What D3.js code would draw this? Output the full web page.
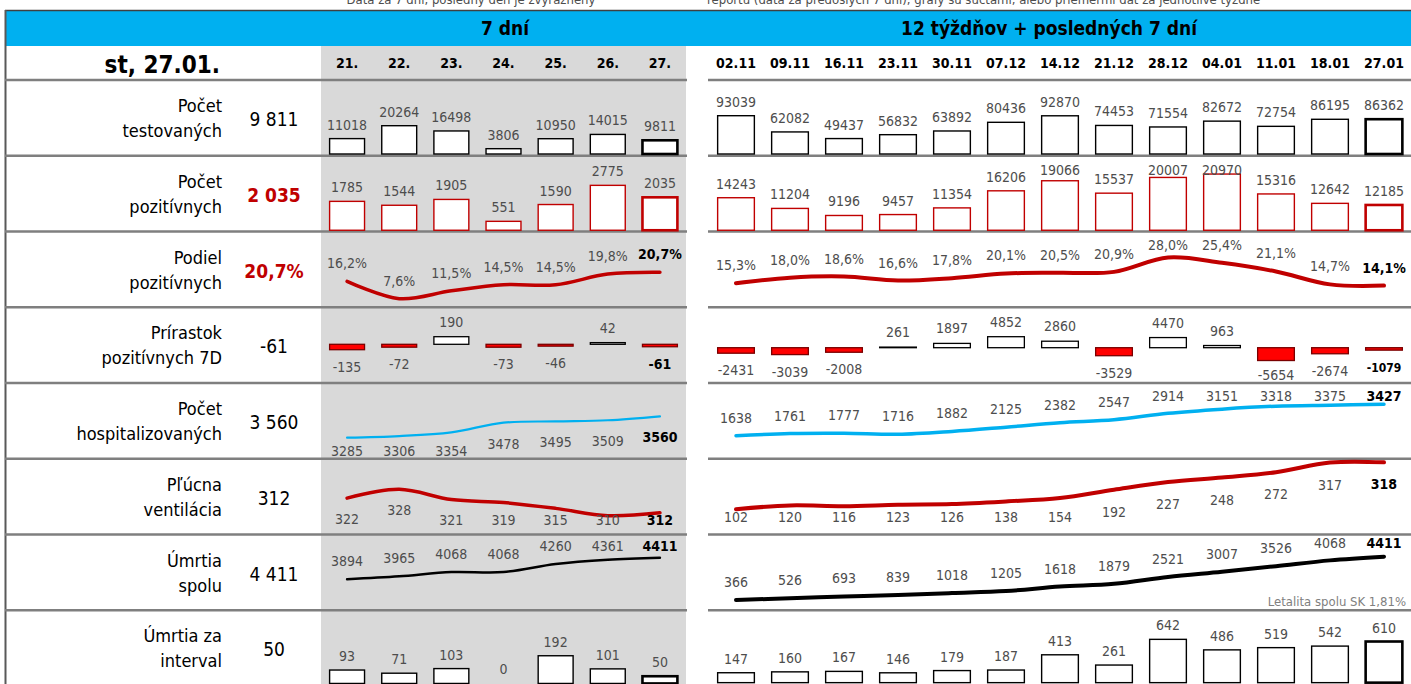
<!DOCTYPE html>
<html lang="sk">
  <head>
    <meta charset="UTF-8">
    <title>COVID SK - prehľad 27.01.</title>
    <script src="https://d3js.org/d3.v7.min.js"></script>
    <style>
      body { margin: 0; background: #fff; }
      svg text { font-family: "DejaVu Sans Condensed", "DejaVu Sans", sans-serif; }
    </style>
  </head>
  <body>
    <svg id="chart" width="1411" height="684"></svg>

  <script>
    // ---- data ----
    var days  = ["21.", "22.", "23.", "24.", "25.", "26.", "27."];
    var weeks = ["02.11", "09.11", "16.11", "23.11", "30.11", "07.12", "14.12",
                 "21.12", "28.12", "04.01", "11.01", "18.01", "27.01"];

    var rowLabels = [["Počet", "testovaných"], ["Počet", "pozitívnych"], ["Podiel", "pozitívnych"],
                     ["Prírastok", "pozitívnych 7D"], ["Počet", "hospitalizovaných"],
                     ["Pľúcna", "ventilácia"], ["Úmrtia", "spolu"], ["Úmrtia za", "interval"]];
    var rowValues = ["9 811", "2 035", "20,7%", "-61", "3 560", "312", "4 411", "50"];

    var tested7   = [11018, 20264, 16498, 3806, 10950, 14015, 9811];
    var testedW   = [93039, 62082, 49437, 56832, 63892, 80436, 92870, 74453, 71554, 82672, 72754, 86195, 86362];
    var positive7 = [1785, 1544, 1905, 551, 1590, 2775, 2035];
    var positiveW = [14243, 11204, 9196, 9457, 11354, 16206, 19066, 15537, 20007, 20970, 15316, 12642, 12185];
    var share7    = [16.2, 7.6, 11.5, 14.5, 14.5, 19.8, 20.7];
    var shareW    = [15.3, 18.0, 18.6, 16.6, 17.8, 20.1, 20.5, 20.9, 28.0, 25.4, 21.1, 14.7, 14.1];
    var growth7   = [-135, -72, 190, -73, -46, 42, -61];
    var growthW   = [-2431, -3039, -2008, 261, 1897, 4852, 2860, -3529, 4470, 963, -5654, -2674, -1079];
    var hosp7     = [3285, 3306, 3354, 3478, 3495, 3509, 3560];
    var hospW     = [1638, 1761, 1777, 1716, 1882, 2125, 2382, 2547, 2914, 3151, 3318, 3375, 3427];
    var vent7     = [322, 328, 321, 319, 315, 310, 312];
    var ventW     = [102, 120, 116, 123, 126, 138, 154, 192, 227, 248, 272, 317, 318];
    var deaths7   = [3894, 3965, 4068, 4068, 4260, 4361, 4411];
    var deathsW   = [366, 526, 693, 839, 1018, 1205, 1618, 1879, 2521, 3007, 3526, 4068, 4411];
    var interval7 = [93, 71, 103, 0, 192, 101, 50];
    var intervalW = [147, 160, 167, 146, 179, 187, 413, 261, 642, 486, 519, 542, 610];

    var RED = "#c00000", BLUE = "#00b0f0", GREY_TXT = "#4d4d4d";

    var svg = d3.select("#chart");

    // rows and columns
    var rowY  = d3.scaleBand().domain(d3.range(8)).range([80, 686]);
    var xDay  = d3.scaleBand().domain(days).range([321, 686]).paddingInner(0.33).paddingOuter(0.165);
    var xWeek = d3.scaleBand().domain(weeks).range([709, 1411]).paddingInner(0.32).paddingOuter(0.16);

    var pct = function(v) { return d3.format(".1f")(v).replace(".", ",") + "%"; };
    var num = function(v) { return String(v); };

    // per row: what each panel draws, scale ranges are relative to the row top
    var rows = [
      { day:  { kind: "bar", data: tested7, domain: [0, 20264], range: [74, 45.7], stroke: "#000" },
        week: { kind: "bar", data: testedW, domain: [20000, 93039], range: [74, 35.7], stroke: "#000" } },
      { day:  { kind: "bar", data: positive7, domain: [0, 2775], range: [74.5, 29.6], stroke: RED },
        week: { kind: "bar", data: positiveW, domain: [5000, 20970], range: [74.5, 18.3], stroke: RED } },
      { day:  { kind: "line", data: share7, domain: [0, 20], range: [82.5, 42.2], color: RED, width: 3.5,
                fmt: pct, off: -13, min: 18 },
        week: { kind: "line", data: shareW, domain: [0, 20], range: [82.5, 42.2], color: RED, width: 4,
                fmt: pct, off: -13, min: 18 } },
      { day:  { kind: "diff", data: growth7, domain: [0, 190], range: [37.05, 29.45] },
        week: { kind: "diff", data: growthW, domain: [0, 4852], range: [40.45, 29.45] } },
      { day:  { kind: "line", data: hosp7, domain: [3285, 3560], range: [54.7, 33.3], color: BLUE, width: 2.2,
                off: 26, max: 73 },
        week: { kind: "line", data: hospW, domain: [1638, 3427], range: [52.7, 21.3], color: BLUE, width: 3.5,
                off: -13, min: 18 } },
      { day:  { kind: "line", data: vent7, domain: [310, 328], range: [56.95, 30.55], color: RED, width: 3.5,
                off: 26, max: 66 },
        week: { kind: "line", data: ventW, domain: [102, 318], range: [50.55, 3.55], color: RED, width: 4,
                off: 27, max: 63 } },
      { day:  { kind: "line", data: deaths7, domain: [3894, 4411], range: [44.8, 23.2], color: "#000", width: 2.5,
                off: -13, min: 16.5 },
        week: { kind: "line", data: deathsW, domain: [366, 4411], range: [65.5, 22.2], color: "#000", width: 4,
                off: -13, min: 13.5 } },
      { day:  { kind: "bar", data: interval7, domain: [0, 192], range: [73.2, 45.5], stroke: "#000" },
        week: { kind: "bar", data: intervalW, domain: [0, 642], range: [72.4, 29.1], stroke: "#000" } }
    ];

    // cut-off note line at the very top (the report is cropped there)
    svg.append("text").attr("x", 471).attr("y", 4).attr("text-anchor", "middle")
      .attr("font-size", "13px").attr("fill", GREY_TXT)
      .text("Dáta za 7 dní, posledný deň je zvýraznený");
    svg.append("text").attr("x", 707).attr("y", 4)
      .attr("font-size", "13px").attr("fill", GREY_TXT)
      .text("reportu (dáta za predošlých 7 dní), grafy sú súčtami, alebo priemermi dát za jednotlivé týždne");

    // blue title band
    svg.append("rect").attr("x", 5).attr("y", 10).attr("width", 1406).attr("height", 36).attr("fill", BLUE);
    svg.append("line").attr("x1", 5).attr("x2", 1411).attr("y1", 10.5).attr("y2", 10.5)
      .attr("stroke", "#404040").attr("stroke-width", 1.5);
    svg.append("text").attr("x", 505).attr("y", 35).attr("text-anchor", "middle")
      .attr("font-size", "19px").attr("font-weight", "bold").text("7 dní");
    svg.append("text").attr("x", 1049).attr("y", 35).attr("text-anchor", "middle")
      .attr("font-size", "19px").attr("font-weight", "bold").text("12 týždňov + posledných 7 dní");

    // grey background of the 7 day block
    svg.append("rect").attr("x", 321).attr("y", 46).attr("width", 365).attr("height", 640).attr("fill", "#d9d9d9");

    // left border
    svg.append("line").attr("x1", 5.5).attr("x2", 5.5).attr("y1", 10).attr("y2", 684)
      .attr("stroke", "#595959").attr("stroke-width", 2);

    // row separators
    svg.append("g").selectAll("line").data(d3.range(8)).enter().append("line")
      .attr("x1", 5).attr("x2", 687)
      .attr("y1", function(i) { return rowY(i); }).attr("y2", function(i) { return rowY(i); })
      .attr("stroke", "#7f7f7f").attr("stroke-width", 2.5);
    svg.append("g").selectAll("line").data(d3.range(8)).enter().append("line")
      .attr("x1", 708).attr("x2", 1411)
      .attr("y1", function(i) { return rowY(i); }).attr("y2", function(i) { return rowY(i); })
      .attr("stroke", "#7f7f7f").attr("stroke-width", 2.5);

    // header row
    svg.append("text").attr("x", 220).attr("y", 73).attr("text-anchor", "end")
      .attr("font-size", "24px").attr("font-weight", "bold").text("st, 27.01.");
    svg.append("g").selectAll("text").data(days).enter().append("text")
      .attr("x", function(d) { return xDay(d) + xDay.bandwidth() / 2; }).attr("y", 68)
      .attr("text-anchor", "middle").attr("font-size", "14px").attr("font-weight", "bold")
      .text(function(d) { return d; });
    svg.append("g").selectAll("text").data(weeks).enter().append("text")
      .attr("x", function(d) { return xWeek(d) + xWeek.bandwidth() / 2; }).attr("y", 68)
      .attr("text-anchor", "middle").attr("font-size", "14px").attr("font-weight", "bold")
      .text(function(d) { return d; });

    // left labels and current values
    rowLabels.forEach(function(lab, i) {
      var top = rowY(i);
      var t = svg.append("text").attr("text-anchor", "end").attr("font-size", "18px");
      t.append("tspan").attr("x", 222).attr("y", top + 32).text(lab[0]);
      t.append("tspan").attr("x", 222).attr("y", top + 57).text(lab[1]);
      var hot = (i == 1 || i == 2);
      svg.append("text").attr("x", 274).attr("y", top + 46).attr("text-anchor", "middle")
        .attr("font-size", "19px")
        .attr("font-weight", hot ? "bold" : "normal")
        .attr("fill", hot ? RED : "#000")
        .text(rowValues[i]);
    });

    // value labels; the last point is emphasised only on line and diff rows
    function valueLabels(g, x, spec, ypos, fmt, boldLast) {
      var keys = x.domain(), last = spec.data.length - 1;
      g.selectAll(null).data(spec.data).enter().append("text")
        .attr("x", function(d, i) { return x(keys[i]) + x.bandwidth() / 2; })
        .attr("y", ypos)
        .attr("text-anchor", "middle")
        .attr("font-size", function(d, i) { return boldLast && i == last && Math.abs(d) >= 1000 && d < 0 ? "12px" : "14px"; })
        .attr("font-weight", function(d, i) { return boldLast && i == last ? "bold" : "normal"; })
        .attr("fill", function(d, i) { return boldLast && i == last ? "#000" : GREY_TXT; })
        .text(function(d) { return (fmt || num)(d); });
    }

    function drawPanel(spec, x, top) {
      var g = svg.append("g");
      var keys = x.domain(), last = spec.data.length - 1;
      var y = d3.scaleLinear().domain(spec.domain).range([top + spec.range[0], top + spec.range[1]]);
      var cx = function(d, i) { return x(keys[i]) + x.bandwidth() / 2; };

      if (spec.kind == "bar") {
        g.selectAll("rect").data(spec.data).enter().append("rect")
          .attr("x", function(d, i) { return x(keys[i]); })
          .attr("y", function(d) { return y(d); })
          .attr("width", x.bandwidth())
          .attr("height", function(d) { return y(spec.domain[0]) - y(d); })
          .attr("fill", "#fff")
          .attr("stroke", spec.stroke)
          .attr("stroke-width", function(d, i) { return i == last ? 2.6 : 1.4; });
        valueLabels(g, x, spec, function(d) { return Math.max(y(d) - 9, top + 19); }, num, false);
      }

      if (spec.kind == "diff") {
        var y0 = y(0);
        g.selectAll("rect").data(spec.data).enter().append("rect")
          .attr("x", function(d, i) { return x(keys[i]); })
          .attr("y", function(d) { return Math.min(y(d), y0); })
          .attr("width", x.bandwidth())
          .attr("height", function(d) { return Math.abs(y(d) - y0); })
          .attr("fill", function(d) { return d < 0 ? "#ff0000" : "#fff"; })
          .attr("stroke", function(d) { return d < 0 ? "#7a0000" : "#000"; })
          .attr("stroke-width", 1.3);
        valueLabels(g, x, spec, function(d) {
          return d < 0 ? Math.min(y(d) + 22, top + 73) : y(d) - 10;
        }, num, true);
      }

      if (spec.kind == "line") {
        var line = d3.line().x(cx).y(function(d) { return y(d); }).curve(d3.curveCatmullRom.alpha(0.5));
        g.append("path").datum(spec.data).attr("d", line)
          .attr("fill", "none").attr("stroke", spec.color)
          .attr("stroke-width", spec.width).attr("stroke-linecap", "round");
        valueLabels(g, x, spec, function(d) {
          var p = y(d) + spec.off;
          if (spec.min != null) p = Math.max(p, top + spec.min);
          if (spec.max != null) p = Math.min(p, top + spec.max);
          return p;
        }, spec.fmt, true);
      }
    }

    rows.forEach(function(r, i) {
      drawPanel(r.day, xDay, rowY(i));
      drawPanel(r.week, xWeek, rowY(i));
    });

    // note under cumulative deaths
    svg.append("text").attr("x", 1406).attr("y", 606).attr("text-anchor", "end")
      .attr("font-size", "13px").attr("fill", "#7f7f7f").text("Letalita spolu SK 1,81%");
  </script>
  </body>
</html>
